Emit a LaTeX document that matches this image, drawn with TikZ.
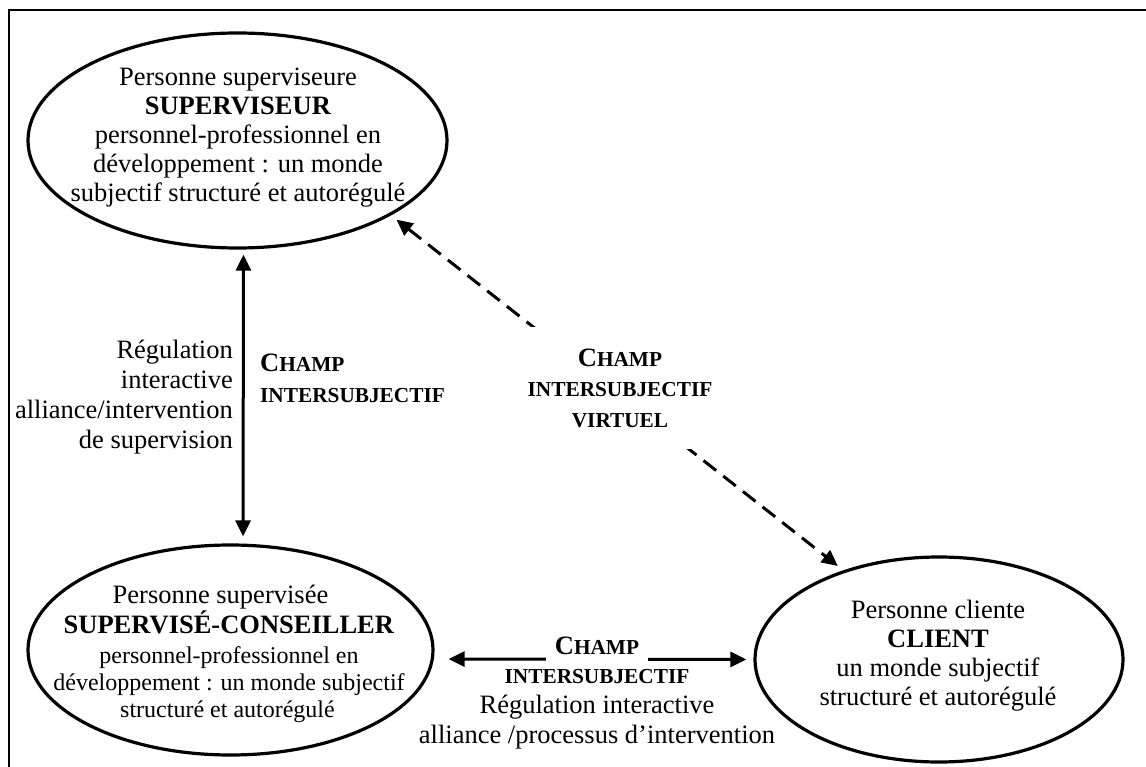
\documentclass[tikz,border=0pt]{standalone}
\usepackage{fontspec}
\setmainfont{Liberation Serif}
\usetikzlibrary{arrows.meta,shapes.geometric}

% faked small capitals for the field labels
\newcommand\champword{{\fontsize{26.5}{31}\selectfont C}{\fontsize{21.3}{31}\selectfont HAMP}}
\newcommand\capsm[1]{{\fontsize{21.3}{31}\selectfont #1}}
\newcommand\smallline[1]{{\fontsize{24}{27}\selectfont #1}}

\begin{document}
\begin{tikzpicture}[x=1pt,y=-1pt,
  every node/.style={font=\fontsize{26.5}{29}\selectfont},
  person/.style={draw,ellipse,line width=3.2pt,inner sep=0pt},
  ptext/.style={align=center,inner sep=0pt},
  field/.style={align=center,font=\bfseries\fontsize{26.5}{31}\selectfont},
  solidarrow/.style={line width=3pt,{Triangle[length=16pt,width=15pt]}-{Triangle[length=16pt,width=15pt]}},
  dasharrow/.style={solidarrow,dash pattern=on 16pt off 9pt},
  frameline/.style={line width=1.4pt}]

\useasboundingbox (0,0) rectangle (1146,767);
\draw[frameline] (9,767) -- (9,10) -- (1146,10);

% the three persons
\node[person,minimum width=419pt,minimum height=215pt] (sv) at (237.5,140.5) {};
\node[person,minimum width=405pt,minimum height=210pt] (sc) at (230.5,650) {};
\node[person,minimum width=368pt,minimum height=205pt] (cl) at (939,659.5) {};

\node[ptext] (svtext) at (238,137.5) {Personne superviseure\\ \textbf{SUPERVISEUR}\\ personnel-professionnel en\\ développement : un monde\\ subjectif structuré et autorégulé};
\node[ptext,font=\fontsize{26.5}{30}\selectfont] (sctext) at (229,654) {Personne supervisée\hspace*{17pt}\\ \textbf{SUPERVISÉ-CONSEILLER}\hspace*{16pt}\\ \smallline{personnel-professionnel en}\hspace*{5pt}\\[-3pt] \smallline{développement : un monde subjectif}\\[-3pt] \smallline{structuré et autorégulé}\hspace*{3pt}};
\node[ptext] (cltext) at (938,656) {Personne cliente\\ \textbf{CLIENT}\\ un monde subjectif\\ structuré et autorégulé};

% supervisor <-> supervisee
\draw[solidarrow,shorten <=5pt,shorten >=7pt] ([xshift=6pt]sv.south) -- ([xshift=12.5pt]sc.north);
\node[align=right,anchor=east,inner sep=0pt,font=\fontsize{26.5}{30}\selectfont] (reg1) at (233,397) {Régulation\\ interactive\\ alliance/intervention\\ de supervision};
\node[field,align=left,anchor=west,inner sep=0pt] (f1) at (260,378) {\champword\\ \capsm{INTERSUBJECTIF}};

% supervisor <-> client (virtual)
\draw[dasharrow,shorten <=7pt,shorten >=7pt] (sv.-26) -- (cl.137);
\node[field,fill=white,inner xsep=3pt,inner ysep=22pt,font=\bfseries\fontsize{26.5}{30.5}\selectfont] (f2) at (620,388) {\champword\\ \capsm{INTERSUBJECTIF}\\ \capsm{VIRTUEL}};

% supervisee <-> client
\draw[solidarrow,shorten <=14pt,shorten >=7pt] ([yshift=-9pt]sc.east) -- (cl.west);
\node[field,fill=white,inner xsep=8.5pt,inner ysep=10pt] (f3) at (597,646) {\champword};
\node[align=center,inner sep=0pt,font=\fontsize{26.5}{30}\selectfont] (f3b) at (597,709) {\textbf{\capsm{INTERSUBJECTIF}}\\ Régulation interactive\\ alliance /processus d’intervention};

\end{tikzpicture}
\end{document}
